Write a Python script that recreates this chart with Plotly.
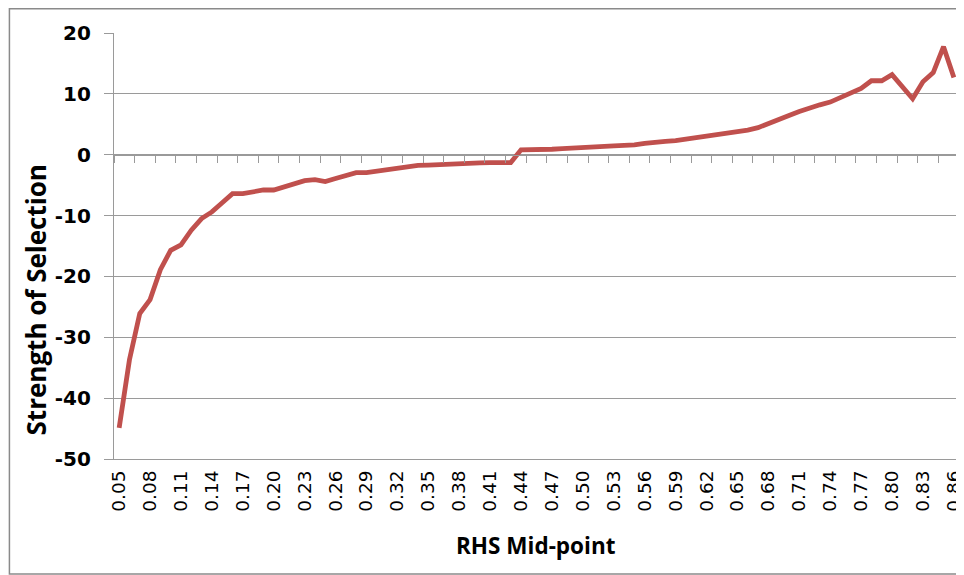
import plotly.graph_objects as go

categories = ["0.05", "0.06", "0.07", "0.08", "0.09", "0.10", "0.11", "0.12", "0.13", "0.14",
              "0.15", "0.16", "0.17", "0.18", "0.19", "0.20", "0.21", "0.22", "0.23", "0.24",
              "0.25", "0.26", "0.27", "0.28", "0.29", "0.30", "0.31", "0.32", "0.33", "0.34",
              "0.35", "0.36", "0.37", "0.38", "0.39", "0.40", "0.41", "0.42", "0.43", "0.44",
              "0.45", "0.46", "0.47", "0.48", "0.49", "0.50", "0.51", "0.52", "0.53", "0.54",
              "0.55", "0.56", "0.57", "0.58", "0.59", "0.60", "0.61", "0.62", "0.63", "0.64",
              "0.65", "0.66", "0.67", "0.68", "0.69", "0.70", "0.71", "0.72", "0.73", "0.74",
              "0.75", "0.76", "0.77", "0.78", "0.79", "0.80", "0.81", "0.82", "0.83", "0.84",
              "0.85", "0.86"]

strength = [-44.9, -33.7, -26.1, -23.8, -18.9, -15.7, -14.8, -12.4, -10.5, -9.4,
            -7.9, -6.4, -6.4, -6.0, -5.8, -5.8, -5.25, -4.6, -4.25, -4.1,
            -4.4, -3.9, -3.5, -2.95, -2.95, -2.7, -2.5, -2.25, -1.95, -1.75,
            -1.7, -1.6, -1.55, -1.5, -1.45, -1.35, -1.3, -1.3, -1.3, 0.8,
            0.8, 0.8, 0.9, 1.0, 1.05, 1.1, 1.25, 1.35, 1.45, 1.55,
            1.6, 1.85, 2.1, 2.2, 2.3, 2.55, 2.75, 2.95, 3.3, 3.5,
            3.7, 4.05, 4.45, 5.05, 5.8, 6.45, 7.1, 7.75, 8.2, 8.65,
            9.4, 10.1, 10.9, 12.15, 12.15, 13.15, 11.2, 9.2, 12.0, 13.5,
            17.75, 12.7]

tick_labels = ["0.05", "0.08", "0.11", "0.14", "0.17", "0.20", "0.23", "0.26", "0.29",
               "0.32", "0.35", "0.38", "0.41", "0.44", "0.47", "0.50", "0.53", "0.56",
               "0.59", "0.62", "0.65", "0.68", "0.71", "0.74", "0.77", "0.80", "0.83", "0.86"]

y_ticks = [-50, -40, -30, -20, -10, 0, 10, 20]
y_tick_text = ["-50", "-40", "-30", "-20", "-10", "0", "10", "20"]

GRID = "#9a9a9a"
# the page body has an 8px margin, so the figure is 8px smaller and offset
OFF = 8
W, H = 964 - OFF, 575 - OFF
ML, MR, MT, MB = 114 - OFF, 0, 33 - OFF, 116
PW, PH = W - ML - MR, H - MT - MB


def px_x(px):
    # page pixel -> paper fraction
    return (px - OFF - ML) / PW


def px_y(py):
    return (H - MB - (py - OFF)) / PH


fig = go.Figure()
fig.add_trace(go.Scatter(
    x=categories, y=strength, mode="lines",
    line=dict(color="#C0504D", width=4.8),
    showlegend=False, hoverinfo="x+y"))
# invisible copy that carries the category tick marks on the zero line
fig.add_trace(go.Scatter(
    x=categories, y=strength, mode="lines", xaxis="x2",
    line=dict(color="rgba(0,0,0,0)", width=0),
    showlegend=False, hoverinfo="skip"))

fig.update_layout(
    width=W, height=H,
    margin=dict(l=ML, r=MR, t=MT, b=MB),
    paper_bgcolor="white", plot_bgcolor="white",
    xaxis=dict(
        type="category", categoryorder="array", categoryarray=categories,
        range=[-0.5, len(categories) - 0.5],
        tickmode="array", tickvals=tick_labels, ticktext=tick_labels,
        tickangle=-90, ticks="", showgrid=False,
        showline=True, linecolor=GRID, linewidth=1.3,
        tickfont=dict(family="DejaVu Sans", size=18.5, color="black"),
        ticklabelstandoff=3,
    ),
    xaxis2=dict(
        type="category", categoryorder="array", categoryarray=categories,
        range=[-0.5, len(categories) - 0.5],
        overlaying="x", anchor="free", position=50 / 70, side="bottom",
        tickson="boundaries", ticks="outside", ticklen=7, tickwidth=1.3, tickcolor=GRID,
        showticklabels=False, showgrid=False,
        showline=True, linecolor=GRID, linewidth=1.3,
    ),
    yaxis=dict(
        range=[-50, 20], tickmode="array", tickvals=y_ticks, ticktext=y_tick_text,
        showgrid=True, gridcolor=GRID, gridwidth=1.3,
        zeroline=False,
        showline=True, linecolor=GRID, linewidth=1.3,
        ticks="outside", ticklen=9, tickwidth=1.3, tickcolor=GRID,
        tickfont=dict(family="DejaVu Sans", size=20, color="black", weight="bold"),
        ticklabelstandoff=9,
    ),
    font=dict(family="Open Sans", color="black"),
)

fig.add_annotation(
    text="Strength of Selection", xref="paper", yref="paper",
    x=px_x(36), y=px_y(300), textangle=-90, showarrow=False,
    xanchor="center", yanchor="middle",
    font=dict(family="Open Sans", size=26, color="black", weight="bold"))
fig.add_annotation(
    text="RHS Mid-point", xref="paper", yref="paper",
    x=px_x(538), y=px_y(545), showarrow=False,
    xanchor="center", yanchor="middle",
    font=dict(family="Open Sans", size=22.5, color="black", weight="bold"))

fig.add_shape(
    type="rect", xref="paper", yref="paper",
    x0=px_x(OFF + 0.8), x1=px_x(990), y0=px_y(574), y1=px_y(OFF + 0.8),
    line=dict(color="#8a8a8a", width=1.5), fillcolor="rgba(0,0,0,0)", layer="below")

fig.write_html("out.html")
